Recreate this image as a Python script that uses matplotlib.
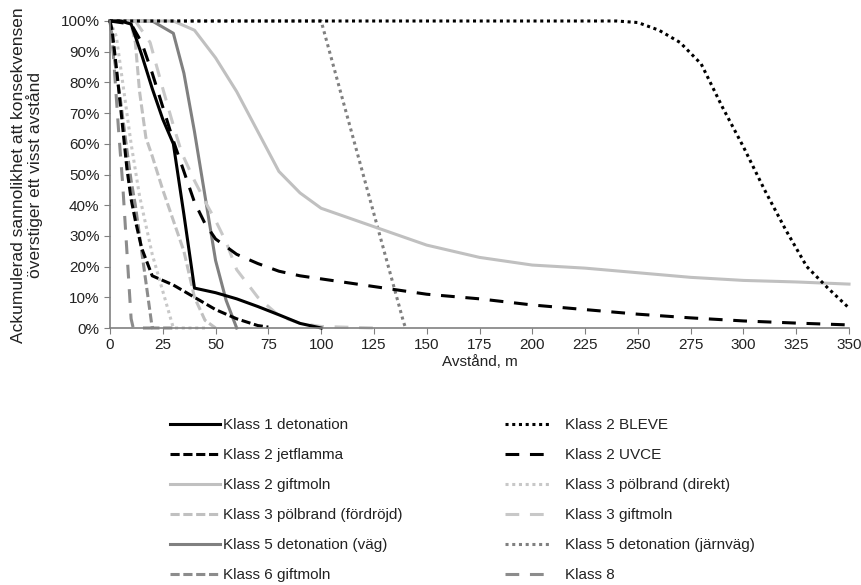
import matplotlib
matplotlib.use("Agg")
import matplotlib.pyplot as plt
from matplotlib import font_manager
from matplotlib.ticker import PercentFormatter, MultipleLocator

# font: narrow Arial-like if available
names = {f.name for f in font_manager.fontManager.ttflist}
narrow = 'Liberation Sans Narrow' if 'Liberation Sans Narrow' in names else 'Liberation Sans'
plt.rcParams['font.family'] = [narrow, 'DejaVu Sans']

# data (distance in m, probability in %)
k1_det_x = [0, 5, 10, 15, 20, 25, 30, 35, 40, 50, 60, 70, 80, 90, 100]
k1_det_y = [100, 100, 99, 89, 78, 68, 60, 37, 13, 11.5, 9.5, 7, 4.3, 1.5, 0]

k2_bleve_x = [0, 240, 250, 260, 270, 280, 290, 300, 310, 320, 330, 340, 350]
k2_bleve_y = [100, 100, 99.5, 97, 93, 86, 72, 59, 45, 32, 20, 13, 6.5]

k2_jet_x = [0, 1, 3, 5, 8, 10, 12, 15, 20, 30, 40, 50, 60, 70, 75]
k2_jet_y = [100, 97, 85, 72, 52, 42, 35, 26, 17, 14, 10, 6, 3, 0.8, 0.3]

k2_uvce_x = [0, 10, 15, 20, 25, 30, 35, 40, 45, 50, 60, 70, 80, 90, 100,
             125, 150, 175, 200, 225, 250, 275, 300, 325, 350]
k2_uvce_y = [100, 99, 93, 83, 72, 61, 51, 41, 34, 29, 24, 21, 18.5, 17, 16,
             13.5, 11, 9.5, 7.5, 6, 4.5, 3.3, 2.3, 1.6, 1]

k2_gift_x = [0, 30, 40, 50, 60, 70, 80, 90, 100, 125, 150, 175, 200, 225,
             250, 275, 300, 325, 350]
k2_gift_y = [100, 100, 97, 88, 77, 64, 51, 44, 39, 33, 27, 23, 20.5, 19.5,
             18, 16.5, 15.5, 15, 14.3]

k3_pol_dir_x = [0, 3, 6, 10, 14, 20, 25, 30, 45]
k3_pol_dir_y = [100, 95, 80, 60, 43, 24, 12, 0, 0]

k3_pol_ford_x = [0, 5, 10, 12, 14, 17, 20, 25, 30, 35, 40, 45, 50]
k3_pol_ford_y = [100, 100, 99, 93, 77, 62, 56, 45, 35, 25, 10, 2.5, 0]

k3_gift_x = [0, 12, 19, 25, 30, 34, 40, 46, 50, 55, 60, 70, 80, 90, 100, 125]
k3_gift_y = [100, 100, 93, 78, 66, 57, 48, 40, 35, 28, 19, 10, 4, 1.5, 0.5, 0]

k5_vag_x = [0, 20, 30, 35, 40, 45, 50, 55, 60]
k5_vag_y = [100, 100, 96, 83, 64, 43, 22, 9, 0]

k5_jarn_x = [0, 100, 139, 140]
k5_jarn_y = [100, 100, 2, 0]

k6_gift_x = [0, 2, 5, 8, 10, 12, 15, 18, 20, 30]
k6_gift_y = [100, 88, 74, 58, 48, 40, 25, 10, 0, 0]

k8_x = [0, 1, 2, 4, 6, 8, 10, 11, 20]
k8_y = [100, 95, 85, 65, 47, 25, 3, 0, 0]

BLACK = '#000000'
LIGHT = '#c0c0c0'
LIGHT2 = '#c8c8c8'
MID = '#808080'
MID2 = '#8c8c8c'
solid = '-'
short = (0, (3, 1.2))
long_ = (0, (4.5, 3.5))
dot = (0, (1, 1.2))

fig = plt.figure(figsize=(8.61, 5.85), dpi=100)
ax = fig.add_axes([110 / 861, 1 - 328 / 585, 739 / 861, 307 / 585])

lw = 2.2
series = {
    'k1': (k1_det_x, k1_det_y, BLACK, solid, 'Klass 1 detonation'),
    'k2b': (k2_bleve_x, k2_bleve_y, BLACK, dot, 'Klass 2 BLEVE'),
    'k2j': (k2_jet_x, k2_jet_y, BLACK, short, 'Klass 2 jetflamma'),
    'k2u': (k2_uvce_x, k2_uvce_y, BLACK, long_, 'Klass 2 UVCE'),
    'k2g': (k2_gift_x, k2_gift_y, LIGHT, solid, 'Klass 2 giftmoln'),
    'k3d': (k3_pol_dir_x, k3_pol_dir_y, LIGHT2, dot, 'Klass 3 pölbrand (direkt)'),
    'k3f': (k3_pol_ford_x, k3_pol_ford_y, LIGHT, short, 'Klass 3 pölbrand (fördröjd)'),
    'k3g': (k3_gift_x, k3_gift_y, LIGHT2, long_, 'Klass 3 giftmoln'),
    'k5v': (k5_vag_x, k5_vag_y, MID, solid, 'Klass 5 detonation (väg)'),
    'k5j': (k5_jarn_x, k5_jarn_y, MID, dot, 'Klass 5 detonation (järnväg)'),
    'k6': (k6_gift_x, k6_gift_y, MID2, short, 'Klass 6 giftmoln'),
    'k8': (k8_x, k8_y, MID2, long_, 'Klass 8'),
}

draw_order = ['k8', 'k6', 'k5j', 'k5v', 'k3g', 'k3f', 'k3d', 'k2g', 'k2u', 'k2j', 'k2b', 'k1']
handles = {}
for key in draw_order:
    x, y, c, ls, label = series[key]
    line, = ax.plot(x, y, color=c, linestyle=ls, linewidth=lw, label=label,
                    clip_on=False, dash_capstyle='butt')
    handles[key] = line

ax.set_xlim(0, 350)
ax.set_ylim(0, 100)
ax.xaxis.set_major_locator(MultipleLocator(25))
ax.yaxis.set_major_locator(MultipleLocator(10))
ax.yaxis.set_major_formatter(PercentFormatter(100, decimals=0))
for s in ['top', 'right']:
    ax.spines[s].set_visible(False)
for s in ['left', 'bottom']:
    ax.spines[s].set_color(MID)
    ax.spines[s].set_linewidth(1.2)
ax.tick_params(direction='out', length=4, color=MID, labelsize=11, labelcolor='#222222')
ax.set_xlabel('Avstånd, m', fontsize=11, color='#222222', labelpad=2)

fig.text(27 / 861, 1 - 175 / 585,
         'Ackumulerad sannolikhet att konsekvensen\növerstiger ett visst avstånd',
         rotation=90, ha='center', va='center', multialignment='center',
         fontsize=12.5, color='#222222', family='Liberation Sans', linespacing=1.05)

col1 = ['k1', 'k2j', 'k2g', 'k3f', 'k5v', 'k6']
col2 = ['k2b', 'k2u', 'k3d', 'k3g', 'k5j', 'k8']
leg1 = fig.legend([handles[k] for k in col1], [series[k][4] for k in col1],
                  loc='upper left', bbox_to_anchor=(170 / 861, 1 - 418 / 585),
                  frameon=False, fontsize=11, handlelength=3.3, handletextpad=0.15,
                  labelspacing=1.05, borderpad=0, borderaxespad=0)
leg2 = fig.legend([handles[k] for k in col2], [series[k][4] for k in col2],
                  loc='upper left', bbox_to_anchor=(505 / 861, 1 - 418 / 585),
                  frameon=False, fontsize=11, handlelength=2.9, handletextpad=1.0,
                  labelspacing=1.05, borderpad=0, borderaxespad=0)
for leg in (leg1, leg2):
    for t in leg.get_texts():
        t.set_color('#222222')

fig.savefig('out.png', dpi=100)
